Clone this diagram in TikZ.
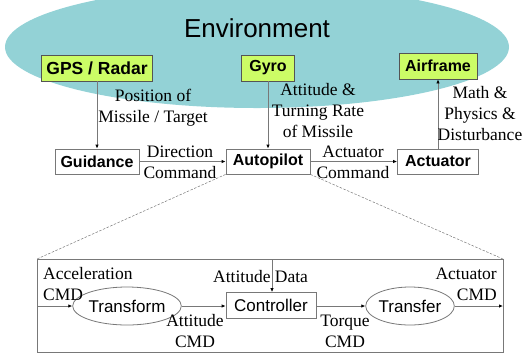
\documentclass[tikz,border=0pt]{standalone}
\usepackage{fontspec}
\setmainfont{Liberation Serif}
\setsansfont{Liberation Sans}
\usetikzlibrary{arrows.meta,shapes.geometric}

\definecolor{envcol}{RGB}{147,210,214}
\definecolor{sensorcol}{RGB}{204,252,102}
\definecolor{edgecol}{RGB}{120,120,120}

\tikzset{
  sensor/.style={draw=edgecol!70!black, fill=sensorcol, line width=0.8pt,
    font=\sffamily\bfseries\fontsize{16}{19}\selectfont, inner sep=0pt},
  stage/.style={draw=edgecol, fill=white, line width=0.8pt,
    font=\sffamily\bfseries\fontsize{16}{19}\selectfont, inner sep=0pt,
    minimum height=25pt},
  block/.style={draw=edgecol, fill=white, line width=0.8pt,
    font=\sffamily\fontsize{17}{20}\selectfont, inner sep=0pt},
  oval/.style={ellipse, draw=edgecol, fill=white, line width=0.8pt,
    font=\sffamily\fontsize{17}{20}\selectfont, inner sep=0pt,
    minimum width=88pt, minimum height=38pt},
  lbl/.style={font=\fontsize{17.5}{21}\selectfont, align=center, inner sep=0pt},
  flow/.style={draw=edgecol, line width=0.8pt,
    -{Latex[length=4pt,width=3.5pt,color=black]}},
  zoomline/.style={draw=edgecol, line width=0.5pt, dash pattern=on 2.5pt off 1.5pt},
}

\begin{document}
\begin{tikzpicture}[x=1pt,y=-1pt]
  \useasboundingbox (0,0) rectangle (530,360);
  \clip (0,0) rectangle (530,360);

  % environment cloud
  \fill[envcol] (257,47) ellipse [x radius=252, y radius=61];
  \node[font=\sffamily\fontsize{26}{30}\selectfont, inner sep=0pt] (env) at (257,28) {Environment};

  % sensors and airframe inside the environment
  \node[sensor, minimum width=111pt, minimum height=26pt,
        font=\sffamily\bfseries\fontsize{17.5}{20}\selectfont] (gps) at (97,68) {GPS / Radar};
  \node[sensor, minimum width=53pt, minimum height=26pt] (gyro) at (268,68) {Gyro};
  \node[sensor, minimum width=78pt, minimum height=26pt] (air) at (438,66) {Airframe};

  % main loop
  \node[stage, minimum width=84pt] (guid) at (97,161.5) {Guidance};
  \node[stage, minimum width=84pt] (auto) at (268,161.5) {Autopilot};
  \node[stage, minimum width=81pt] (act) at (438,161.5) {Actuator};

  \draw[flow] (gps) -- (guid);
  \draw[flow] (gyro) -- (auto);
  \draw[flow] (act) -- (air);
  \draw[flow] (guid) -- (auto);
  \draw[flow] (auto) -- (act);

  \node[lbl] (lpos) at (153,108) {Position of\\Missile / Target};
  \node[lbl] (latt) at (318,111) {Attitude \&\\Turning Rate\\of Missile};
  \node[lbl] (lmath) at (480,114) {Math \&\\Physics \&\\Disturbance};
  \node[lbl] (ldir) at (180,162) {Direction\\Command};
  \node[lbl] (lcmd) at (353,162) {Actuator\\Command};

  % autopilot detail
  \coordinate (fnw) at (37,259);
  \coordinate (fne) at (503,259);
  \coordinate (fse) at (503,352);
  \draw[edgecol, line width=0.8pt] (fnw) rectangle (fse);
  \draw[zoomline] (auto.south west) -- (fnw);
  \draw[zoomline] (auto.south east) -- (fne);

  \node[oval] (trf) at (127,306) {Transform};
  \node[block, minimum width=90pt, minimum height=26pt] (ctl) at (271,305.5) {Controller};
  \node[oval, minimum width=86pt] (tfr) at (410,306) {Transfer};

  \coordinate (in) at (37,306);
  \coordinate (out) at (503,306);
  \coordinate (atd) at (272,259);

  \draw[flow] (in) -- (trf);
  \draw[flow] (trf) -- (ctl.west |- trf);
  \draw[flow] (ctl.east |- tfr) -- (tfr);
  \draw[flow] (tfr) -- (out);
  \draw[flow] (atd) -- (ctl.north -| atd);

  \node[lbl, align=left, anchor=west] (lacc) at (43,284) {Acceleration\\CMD};
  \node[lbl, anchor=west] (ldata) at (213,277) {Attitude Data};
  \node[lbl] (lacmd) at (195,331) {Attitude\\CMD};
  \node[lbl] (ltq) at (345,331) {Torque\\CMD};
  \node[lbl, align=right, anchor=east] (lout) at (497,284) {Actuator\\CMD};
\end{tikzpicture}
\end{document}
